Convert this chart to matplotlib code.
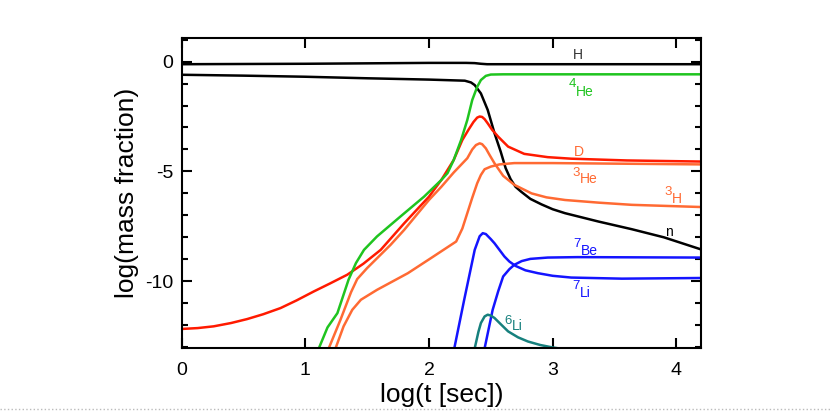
import numpy as np
import matplotlib.pyplot as plt
from matplotlib.lines import Line2D
from matplotlib.ticker import MultipleLocator

plt.rcParams['font.family'] = ['Liberation Sans', 'DejaVu Sans']
plt.rcParams['axes.unicode_minus'] = False

# ---- data: log(t [sec]) vs log(mass fraction) ----
h_x = [0.0, 0.5, 1.0, 1.5, 2.0, 2.3, 2.37, 2.42, 2.47, 2.6, 4.2]
h_y = [-0.12, -0.11, -0.1, -0.08, -0.06, -0.06, -0.07, -0.1, -0.12, -0.12, -0.12]

n_x = [0.0, 0.5, 1.0, 1.5, 2.0, 2.29, 2.34, 2.37, 2.42, 2.475, 2.53, 2.58, 2.62,
       2.66, 2.7, 2.745, 2.82, 2.91, 3.0, 3.1, 3.37, 3.64, 3.9, 4.2]
n_y = [-0.6, -0.64, -0.69, -0.76, -0.82, -0.87, -0.95, -1.07, -1.45, -2.2, -3.26,
       -4.1, -4.85, -5.35, -5.7, -5.92, -6.25, -6.5, -6.72, -6.9, -7.28, -7.63,
       -8.0, -8.55]

he4_x = [1.11, 1.18, 1.26, 1.35, 1.41, 1.475, 1.58, 1.77, 1.96, 2.1, 2.15, 2.2,
         2.26, 2.31, 2.35, 2.39, 2.42, 2.46, 2.5, 2.6, 4.2]
he4_y = [-13.05, -12.1, -11.45, -9.93, -9.17, -8.57, -7.96, -7.05, -6.15, -5.39,
         -5.08, -4.48, -3.57, -2.66, -1.75, -1.15, -0.84, -0.65, -0.59, -0.58, -0.58]

d_x = [0.0, 0.13, 0.26, 0.4, 0.53, 0.66, 0.8, 0.93, 1.07, 1.2, 1.34, 1.47, 1.61,
       1.8, 2.0, 2.1, 2.2, 2.27, 2.32, 2.36, 2.39, 2.41, 2.43, 2.45, 2.475, 2.51,
       2.56, 2.64, 2.77, 2.96, 3.15, 3.6, 4.2]
d_y = [-12.17, -12.13, -12.05, -11.9, -11.72, -11.5, -11.22, -10.87, -10.46,
       -10.1, -9.7, -9.2, -8.57, -7.36, -6.15, -5.39, -4.48, -3.57, -3.1, -2.75,
       -2.55, -2.5, -2.52, -2.62, -2.81, -3.1, -3.42, -3.87, -4.2, -4.35, -4.42,
       -4.5, -4.55]

he3_x = [1.245, 1.31, 1.38, 1.45, 1.58, 1.83, 2.015, 2.22, 2.27, 2.31, 2.35,
         2.39, 2.42, 2.45, 2.5, 2.57, 2.69, 3.0, 4.2]
he3_y = [-13.05, -12.05, -11.3, -10.84, -10.39, -9.63, -8.95, -8.19, -7.6, -6.9,
         -6.2, -5.54, -5.16, -4.9, -4.78, -4.68, -4.62, -4.62, -4.68]

h3_x = [1.19, 1.285, 1.37, 1.42, 1.5, 1.69, 1.8, 2.0, 2.1, 2.2, 2.31, 2.35,
        2.38, 2.41, 2.43, 2.46, 2.49, 2.53, 2.6, 2.69, 2.83, 2.95, 3.1, 3.37,
        3.64, 4.2]
h3_y = [-13.05, -11.75, -10.5, -9.9, -9.4, -8.34, -7.66, -6.3, -5.7, -5.05,
        -4.4, -4.0, -3.8, -3.72, -3.76, -3.95, -4.25, -4.63, -5.2, -5.61, -6.0,
        -6.18, -6.3, -6.42, -6.52, -6.62]

li7_x = [2.205, 2.285, 2.37, 2.41, 2.435, 2.46, 2.5, 2.53, 2.57, 2.61, 2.65,
         2.7, 2.78, 2.88, 3.0, 3.15, 3.56, 4.2]
li7_y = [-13.05, -10.84, -8.57, -7.95, -7.81, -7.85, -8.08, -8.27, -8.57, -8.87,
         -9.1, -9.3, -9.5, -9.63, -9.75, -9.83, -9.88, -9.85]

be7_x = [2.45, 2.515, 2.56, 2.6, 2.65, 2.69, 2.75, 2.82, 2.96, 3.2, 4.2]
be7_y = [-13.05, -11.3, -10.45, -9.78, -9.45, -9.25, -9.08, -8.98, -8.92, -8.9,
         -8.92]

li6_x = [2.37, 2.4, 2.42, 2.45, 2.475, 2.5, 2.53, 2.58, 2.64, 2.72, 2.8, 2.9,
         2.99, 3.1]
li6_y = [-13.05, -12.3, -11.9, -11.6, -11.52, -11.56, -11.67, -11.95, -12.28,
         -12.55, -12.74, -12.9, -13.0, -13.1]

c_black = 'black'
c_green = '#1fc41f'
c_red = '#ff1a00'
c_orange = '#ff6a33'
c_blue = '#1414ff'
c_teal = '#16807d'

fig = plt.figure(figsize=(8.3, 4.12), dpi=100)
ax = fig.add_axes([0.2187, 0.1546, 0.626, 0.753])

lw = 1.8
ax.plot(h_x, h_y, color=c_black, lw=lw)
ax.plot(n_x, n_y, color=c_black, lw=lw)
ax.plot(he3_x, he3_y, color=c_orange, lw=lw)
ax.plot(h3_x, h3_y, color=c_orange, lw=lw)
ax.plot(d_x, d_y, color=c_red, lw=lw)
ax.plot(he4_x, he4_y, color=c_green, lw=lw)
ax.plot(be7_x, be7_y, color=c_blue, lw=lw)
ax.plot(li7_x, li7_y, color=c_blue, lw=lw)
ax.plot(li6_x, li6_y, color=c_teal, lw=lw)


# isotope labels: mass number up-left, symbol lowered to its right
def iso(x, y_num, y_sym, num, sym, color):
    ax.text(x, y_num, num, color=color, fontsize=9.5, ha='right', va='center')
    ax.text(x, y_sym, sym, color=color, fontsize=10, ha='left', va='center')


ax.text(3.2, 0.3, 'H', color='#333333', fontsize=10, ha='center', va='center')
ax.text(3.21, -4.1, 'D', color=c_orange, fontsize=10, ha='center', va='center')
ax.text(3.94, -7.75, 'n', color=c_black, fontsize=10, ha='center', va='center')
iso(3.19, -1.02, -1.37, '4', 'He', c_green)
iso(3.22, -5.05, -5.36, '3', 'He', c_orange)
iso(3.96, -5.95, -6.27, '3', 'H', c_orange)
iso(3.23, -8.3, -8.62, '7', 'Be', c_blue)
iso(3.22, -10.22, -10.52, '7', 'Li', c_blue)
iso(2.67, -11.8, -12.05, '6', 'Li', c_teal)

ax.set_xlim(0, 4.2)
ax.set_ylim(-13.05, 1.07)
ax.set_xticks([0, 1, 2, 3, 4])
ax.set_yticks([0, -5, -10])
ax.yaxis.set_minor_locator(MultipleLocator(1))
ax.tick_params(which='both', direction='in', top=True, right=True, width=1.5)
ax.tick_params(which='major', length=7, labelsize=14, pad=10)
ax.tick_params(axis='y', which='major', pad=6)
ax.tick_params(which='minor', length=4)
for sp in ax.spines.values():
    sp.set_linewidth(1.5)

ax.set_xlabel('log(t [sec])', fontsize=19, labelpad=3)
ax.set_ylabel('log(mass fraction)', fontsize=19, labelpad=4)

# dotted separator under the figure
fig.add_artist(Line2D([0, 1], [0.007, 0.007], transform=fig.transFigure,
                      ls=':', lw=1, color='#bbbbbb'))

fig.savefig('out.png', dpi=100)
